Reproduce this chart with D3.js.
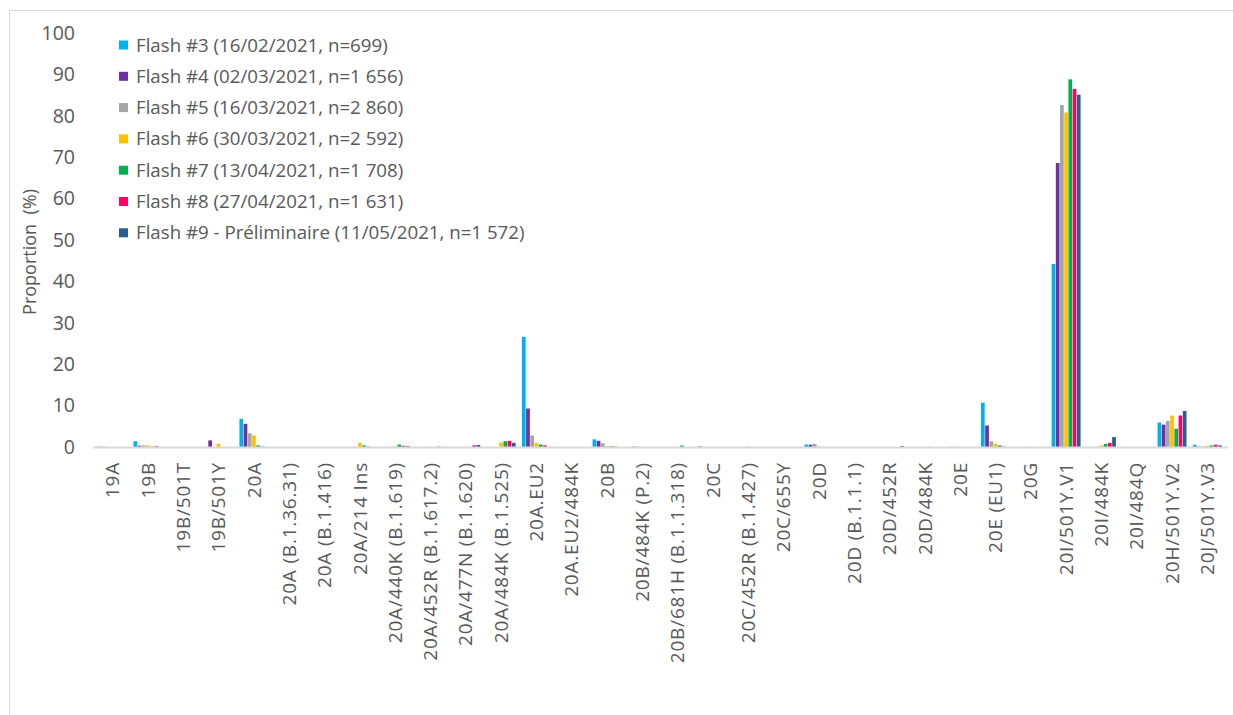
<!DOCTYPE html>
<html>
<head>
<meta charset="utf-8">
<script src="https://cdn.jsdelivr.net/npm/d3@7"></script>
<style>
  body { margin: 0; background: #fff; }
  svg { display: block; font-family: "Open Sans", sans-serif; }
</style>
</head>
<body>
<svg id="chart" width="1233" height="715"></svg>
<script>
// Lineages (x axis)
var categories = [
  '19A', '19B', '19B/501T', '19B/501Y', '20A', '20A (B.1.36.31)', '20A (B.1.416)',
  '20A/214 Ins', '20A/440K (B.1.619)', '20A/452R (B.1.617.2)', '20A/477N (B.1.620)',
  '20A/484K (B.1.525)', '20A.EU2', '20A.EU2/484K', '20B', '20B/484K (P.2)',
  '20B/681H (B.1.1.318)', '20C', '20C/452R (B.1.427)', '20C/655Y', '20D',
  '20D (B.1.1.1)', '20D/452R', '20D/484K', '20E', '20E (EU1)', '20G',
  '20I/501Y.V1', '20I/484K', '20I/484Q', '20H/501Y.V2', '20J/501Y.V3'
];

var seriesNames = [
  'Flash #3 (16/02/2021, n=699)',
  'Flash #4 (02/03/2021, n=1 656)',
  'Flash #5 (16/03/2021, n=2 860)',
  'Flash #6 (30/03/2021, n=2 592)',
  'Flash #7 (13/04/2021, n=1 708)',
  'Flash #8 (27/04/2021, n=1 631)',
  'Flash #9 - Préliminaire (11/05/2021, n=1 572)'
];

var seriesColors = ['#00b0f0', '#7030a0', '#a5a5a5', '#ffc000', '#00b050', '#ff0066', '#255e91'];

// Proportion (%) per lineage, one array per flash survey
var flash3 = [0.1, 1.4, 0, 0, 6.8, 0, 0, 0, 0, 0, 0, 0, 26.6, 0, 1.85, 0, 0, 0.2, 0, 0, 0.6, 0, 0, 0, 0, 10.7, 0, 44.2, 0, 0, 5.9, 0.55];
var flash4 = [0.05, 0.3, 0, 1.6, 5.6, 0, 0, 0, 0, 0, 0, 0, 9.3, 0, 1.5, 0.1, 0, 0, 0, 0, 0.55, 0, 0, 0, 0.05, 5.2, 0, 68.6, 0, 0, 5.4, 0.1];
var flash5 = [0, 0.4, 0, 0, 3.3, 0, 0, 0.05, 0, 0.05, 0, 0, 2.8, 0, 0.9, 0.05, 0, 0, 0, 0, 0.75, 0, 0, 0, 0, 1.4, 0.05, 82.6, 0, 0, 6.3, 0.1];
var flash6 = [0, 0.4, 0, 0.8, 2.8, 0, 0, 1.0, 0.1, 0, 0.05, 1.1, 1.0, 0, 0.2, 0, 0, 0, 0.1, 0, 0.15, 0, 0, 0, 0, 0.8, 0, 80.8, 0.4, 0, 7.6, 0.3];
var flash7 = [0, 0.1, 0, 0, 0.4, 0, 0, 0.4, 0.6, 0, 0, 1.4, 0.6, 0, 0.2, 0, 0.35, 0, 0, 0, 0, 0, 0, 0.05, 0, 0.4, 0, 88.8, 0.75, 0, 4.4, 0.4];
var flash8 = [0, 0.2, 0, 0, 0.1, 0, 0, 0.1, 0.3, 0.1, 0.4, 1.5, 0.4, 0, 0.1, 0, 0, 0, 0, 0, 0, 0, 0, 0, 0, 0.1, 0, 86.5, 1.0, 0, 7.6, 0.55];
var flash9 = [0, 0, 0, 0, 0, 0, 0, 0, 0.2, 0, 0.5, 1.0, 0, 0, 0, 0, 0, 0, 0, 0, 0, 0, 0.25, 0, 0, 0, 0, 85.1, 2.4, 0, 8.7, 0.4];

var yTicks = [0, 10, 20, 30, 40, 50, 60, 70, 80, 90, 100];

var values = [flash3, flash4, flash5, flash6, flash7, flash8, flash9];

var svg = d3.select('#chart');
var textColor = '#595959';

// Chart frame (only top and left edges are visible)
svg.append('rect')
   .attr('x', 9.5)
   .attr('y', 10.5)
   .attr('width', 1300)
   .attr('height', 800)
   .attr('fill', 'none')
   .attr('stroke', '#d9d9d9');

var x0 = d3.scaleBand()
           .domain(categories)
           .range([95, 1225])
           .paddingInner(0.18)
           .paddingOuter(0.09);

var x1 = d3.scaleBand()
           .domain(d3.range(seriesNames.length))
           .range([0, x0.bandwidth()])
           .paddingInner(0.12);

var y = d3.scaleLinear()
          .domain([0, 100])
          .range([447, 33]);

// Bars
var groups = svg.selectAll('.group')
                .data(categories)
                .enter()
                .append('g')
                .attr('class', 'group')
                .attr('transform', function (d) {
                  return 'translate(' + x0(d) + ',0)';
                });

groups.selectAll('rect')
      .data(function (d, i) {
        return values.map(function (s, k) {
          return { k: k, value: s[i] };
        });
      })
      .enter()
      .append('rect')
      .attr('x', function (d) { return x1(d.k); })
      .attr('y', function (d) { return y(d.value); })
      .attr('width', x1.bandwidth())
      .attr('height', function (d) { return y(0) - y(d.value); })
      .attr('fill', function (d) { return seriesColors[d.k]; });

// Y axis (labels only)
var yAxis = svg.append('g')
               .attr('transform', 'translate(75,0)')
               .call(d3.axisLeft(y).tickValues(yTicks).tickSize(0).tickPadding(0));
yAxis.select('.domain').remove();
yAxis.selectAll('text')
     .attr('fill', textColor)
     .style('font-size', '19.5px')
     .style('font-family', '"Open Sans", sans-serif');

// X axis
var xAxis = svg.append('g')
               .attr('transform', 'translate(0,' + y(0) + ')')
               .call(d3.axisBottom(x0).tickSize(0).tickPadding(0));
xAxis.select('.domain')
     .attr('d', 'M93,0.5H1228')
     .attr('stroke', '#d9d9d9')
     .attr('stroke-width', 2);
xAxis.selectAll('text')
     .attr('transform', 'rotate(-90)')
     .attr('x', -15)
     .attr('y', 0)
     .attr('dy', '0.35em')
     .attr('text-anchor', 'end')
     .attr('fill', textColor)
     .style('font-size', '19px')
     .style('letter-spacing', '0.8px')
     .style('font-family', '"Open Sans", sans-serif');

// Y axis title
svg.append('text')
   .attr('transform', 'translate(30,252) rotate(-90)')
   .attr('text-anchor', 'middle')
   .attr('dy', '0.35em')
   .attr('fill', textColor)
   .style('font-size', '18px')
   .style('white-space', 'pre')
   .text('Proportion  (%)');

// Legend
var legend = svg.selectAll('.legend')
                .data(seriesNames)
                .enter()
                .append('g')
                .attr('class', 'legend')
                .attr('transform', function (d, i) {
                  return 'translate(119,' + (45 + i * 31.3) + ')';
                });
legend.append('rect')
      .attr('x', 0)
      .attr('y', -4.5)
      .attr('width', 9)
      .attr('height', 9)
      .attr('fill', function (d, i) { return seriesColors[i]; });
legend.append('text')
      .attr('x', 17)
      .attr('dy', '0.35em')
      .attr('fill', textColor)
      .style('font-size', '18.7px')
      .text(function (d) { return d; });
</script>
</body>
</html>
